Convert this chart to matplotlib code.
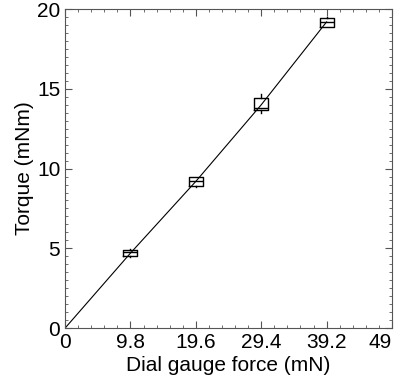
import matplotlib
matplotlib.use("Agg")
import matplotlib.pyplot as plt
from matplotlib.ticker import MultipleLocator

plt.rcParams['font.family'] = ['Liberation Sans', 'DejaVu Sans']

# dial gauge force (mN) and torque stats (mNm)
force = [9.8, 19.6, 29.4, 39.2]
med = [4.8, 9.2, 13.8, 19.2]
q1 = [4.5, 8.9, 13.7, 18.9]
q3 = [4.9, 9.5, 14.45, 19.45]
wlo = [4.45, 8.85, 13.5, 18.85]
whi = [4.95, 9.5, 14.7, 19.5]
line_y = [4.7, 9.2, 14.0, 19.2]

fig = plt.figure(figsize=(4.02, 3.81), dpi=100)
ax = fig.add_axes([0.162, 0.139, 0.813, 0.837])

stats = []
for i in range(len(force)):
    stats.append({'med': med[i], 'q1': q1[i], 'q3': q3[i],
                  'whislo': wlo[i], 'whishi': whi[i], 'fliers': []})
ax.bxp(stats, positions=force, widths=2.1, showcaps=False,
       boxprops=dict(color='black', linewidth=1.0),
       medianprops=dict(color='black', linewidth=1.0),
       whiskerprops=dict(color='black', linewidth=1.0))

ax.plot([0] + force, [0] + line_y, color='black', linewidth=0.8)

ax.set_xlim(0, 49)
ax.set_ylim(0, 20)
ax.set_xticks([0, 9.8, 19.6, 29.4, 39.2, 49])
ax.set_xticklabels(['0', '9.8', '19.6', '29.4', '39.2', '49'])
ax.set_yticks([0, 5, 10, 15, 20])
ax.set_yticklabels(['0', '5', '10', '15', '20'])
ax.xaxis.set_minor_locator(MultipleLocator(1.96))
ax.yaxis.set_minor_locator(MultipleLocator(0.5))
ax.tick_params(which='both', direction='in', top=True, right=True,
               labelsize=15, color='#555555')
ax.tick_params(which='major', length=5, width=0.8)
ax.tick_params(which='minor', length=2.5, width=0.6)
for s in ax.spines.values():
    s.set_color('#555555')
    s.set_linewidth(0.8)
ax.get_xticklabels()[-1].set_horizontalalignment('right')

ax.set_xlabel('Dial gauge force (mN)', fontsize=15, labelpad=3)
ax.set_ylabel('Torque (mNm)', fontsize=15, labelpad=2)

fig.savefig('out.png', dpi=100)
